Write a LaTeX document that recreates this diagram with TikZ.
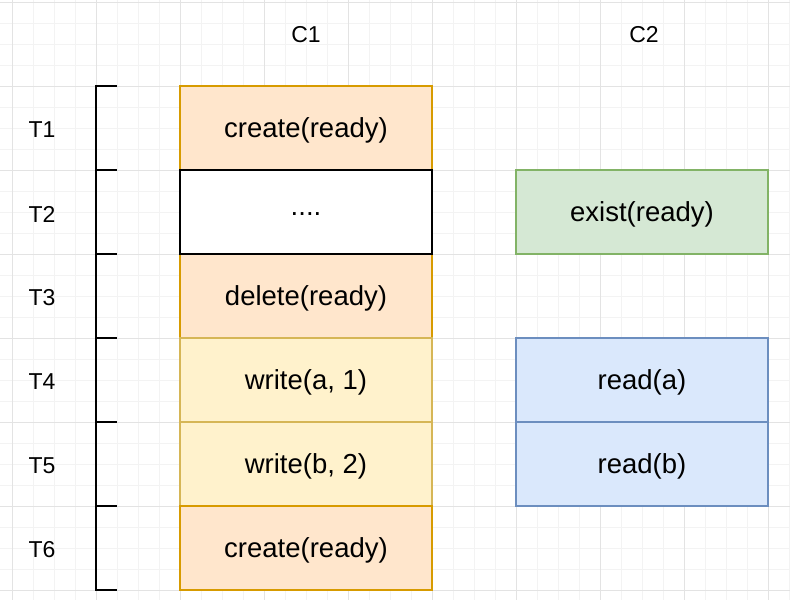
\documentclass[tikz,border=0pt]{standalone}
\usepackage{fontspec}
\setmainfont{Liberation Sans}
\definecolor{orangefill}{HTML}{FFE6CC}
\definecolor{orangeline}{HTML}{D79B00}
\definecolor{yellowfill}{HTML}{FFF2CC}
\definecolor{yellowline}{HTML}{D6B656}
\definecolor{greenfill}{HTML}{D5E8D4}
\definecolor{greenline}{HTML}{82B366}
\definecolor{bluefill}{HTML}{DAE8FC}
\definecolor{blueline}{HTML}{6C8EBF}
\definecolor{gridminor}{HTML}{F3F3F3}
\definecolor{gridmajor}{HTML}{E3E3E3}
\tikzset{
  cell/.style={rectangle, minimum width=252pt, minimum height=84pt, inner sep=0pt, line width=1.6pt, font=\fontsize{27.5}{32}\selectfont},
  orangecell/.style={cell, draw=orangeline, fill=orangefill},
  yellowcell/.style={cell, draw=yellowline, fill=yellowfill},
  greencell/.style={cell, draw=greenline, fill=greenfill},
  bluecell/.style={cell, draw=blueline, fill=bluefill},
  whitecell/.style={cell, draw=black, fill=white, line width=2pt},
  celltext/.style={inner sep=0pt, font=\fontsize{27.5}{32}\selectfont},
  label/.style={inner sep=0pt, font=\fontsize{23}{27}\selectfont},
  bracket/.style={line width=2pt, black}
}
\begin{document}
\begin{tikzpicture}[x=1pt,y=-1pt]
\useasboundingbox (0,0) rectangle (790,600);
\fill[white] (0,0) rectangle (790,600);
% grid
\foreach \i in {0,...,38} {
  \draw[gridminor, line width=0.8pt] ({12+21*(\i-1)},0) -- ({12+21*(\i-1)},600);
}
\foreach \j in {0,...,28} {
  \draw[gridminor, line width=0.8pt] (0,{2+21*\j}) -- (790,{2+21*\j});
}
\foreach \i in {0,...,9} {
  \draw[gridmajor, line width=0.8pt] ({12+84*\i},0) -- ({12+84*\i},600);
}
\foreach \j in {0,...,7} {
  \draw[gridmajor, line width=0.8pt] (0,{2+84*\j}) -- (790,{2+84*\j});
}
% column headers
\node[label] (c1) at (306,35) {C1};
\node[label] (c2) at (644,35) {C2};
% row labels
\node[label] (t1) at (42,130) {T1};
\node[label] (t2) at (42,214) {T2};
\node[label] (t3) at (42,298) {T3};
\node[label] (t4) at (42,382) {T4};
\node[label] (t5) at (42,466) {T5};
\node[label] (t6) at (42,550) {T6};
% C1 column
\node[orangecell] (a1) at (306,128) {};
\node[orangecell] (a3) at (306,296) {};
\node[whitecell]  (a2) at (306,212) {};
\node[yellowcell] (a4) at (306,380) {};
\node[yellowcell] (a5) at (306,464) {};
\node[orangecell] (a6) at (306,548) {};
\node[celltext] (a1t) at ([yshift=-2pt]a1.center) {create(ready)};
\node[celltext] (a2t) at ([yshift=-2pt]a2.center) {....};
\node[celltext] (a3t) at ([yshift=-2pt]a3.center) {delete(ready)};
\node[celltext] (a4t) at ([yshift=-2pt]a4.center) {write(a, 1)};
\node[celltext] (a5t) at ([yshift=-2pt]a5.center) {write(b, 2)};
\node[celltext] (a6t) at ([yshift=-2pt]a6.center) {create(ready)};
% C2 column
\node[greencell] (b2) at (642,212) {};
\node[bluecell]  (b4) at (642,380) {};
\node[bluecell]  (b5) at (642,464) {};
\node[celltext] (b2t) at ([yshift=-2pt]b2.center) {exist(ready)};
\node[celltext] (b4t) at ([yshift=-2pt]b4.center) {read(a)};
\node[celltext] (b5t) at ([yshift=-2pt]b5.center) {read(b)};
% bracket
\draw[bracket] (117,86) -- (96,86) -- (96,590) -- (117,590);
\foreach \y in {170,254,338,422,506} {
  \draw[bracket] (96,\y) -- (117,\y);
}
\end{tikzpicture}
\end{document}
